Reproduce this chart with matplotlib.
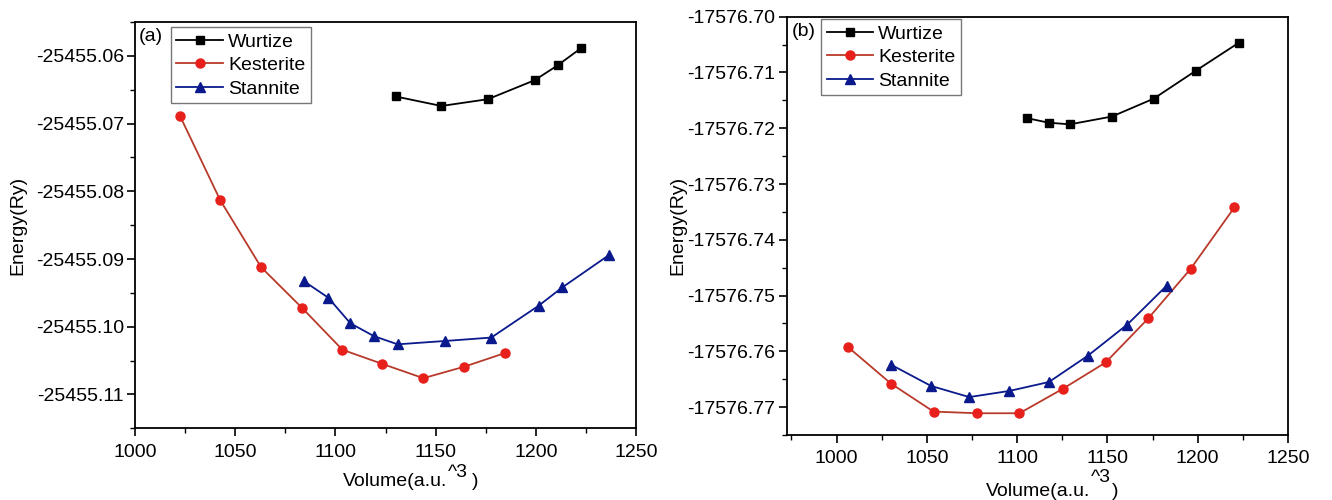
import matplotlib.pyplot as plt
from matplotlib.ticker import MultipleLocator, FormatStrFormatter

plt.rcParams['font.family'] = ['Liberation Sans', 'DejaVu Sans']

# panel (a)
a_wurtize_v = [1130.1, 1152.9, 1176.1, 1199.4, 1210.9, 1222.4]
a_wurtize_e = [-25455.0660, -25455.0674, -25455.0664, -25455.0636, -25455.0614, -25455.0589]
a_kesterite_v = [1022.5, 1042.5, 1062.9, 1083.3, 1103.5, 1123.5, 1143.9, 1164.3, 1184.5]
a_kesterite_e = [-25455.0689, -25455.0813, -25455.0912, -25455.0972, -25455.1034,
                 -25455.1055, -25455.1076, -25455.1059, -25455.1039]
a_stannite_v = [1084.4, 1096.4, 1107.5, 1119.3, 1131.1, 1154.9, 1177.8, 1201.4, 1213.2, 1236.6]
a_stannite_e = [-25455.0933, -25455.0957, -25455.0995, -25455.1014, -25455.1026,
                -25455.1021, -25455.1016, -25455.0969, -25455.0942, -25455.0894]

# panel (b)
b_wurtize_v = [1105.6, 1117.4, 1129.2, 1152.5, 1175.6, 1198.9, 1222.6]
b_wurtize_e = [-17576.7182, -17576.7190, -17576.7193, -17576.7179, -17576.7147,
               -17576.7097, -17576.7047]
b_kesterite_v = [1006.6, 1030.2, 1053.7, 1077.8, 1101.3, 1125.4, 1149.0, 1172.6, 1196.1, 1220.3]
b_kesterite_e = [-17576.7593, -17576.7658, -17576.7708, -17576.7711, -17576.7711,
                 -17576.7667, -17576.7620, -17576.7541, -17576.7452, -17576.7342]
b_stannite_v = [1030.2, 1052.3, 1073.5, 1095.7, 1117.6, 1139.1, 1161.0, 1182.9]
b_stannite_e = [-17576.7624, -17576.7662, -17576.7682, -17576.7671, -17576.7655,
                -17576.7608, -17576.7552, -17576.7482]

RED_LINE = '#b83a2a'
RED_MARK = '#e8201c'
BLUE = '#0a1a8c'
W, H = 1332, 500


def draw(ax, wv, we, kv, ke, sv, se, tag, leg_x, leg_y, tag_x, ylab_x):
    ax.plot(wv, we, color='black', lw=1.3, marker='s', ms=5.5, label='Wurtize')
    ax.plot(kv, ke, color=RED_LINE, lw=1.3, marker='o', ms=6.5,
            mfc=RED_MARK, mec=RED_MARK, label='Kesterite')
    ax.plot(sv, se, color=BLUE, lw=1.3, marker='^', ms=6.5, label='Stannite')
    ax.text(tag_x, 0.985, tag, transform=ax.transAxes, fontsize=14, va='top', ha='left')
    leg = ax.legend(loc='upper left', bbox_to_anchor=(leg_x, leg_y), fontsize=14,
                    fancybox=False, edgecolor='#555555', handlelength=2.4,
                    borderpad=0.3, labelspacing=0.3, handletextpad=0.25,
                    borderaxespad=0.0)
    leg.get_frame().set_linewidth(1.0)
    ax.tick_params(axis='both', which='both', direction='out', top=False, right=False,
                   labelsize=14)
    ax.tick_params(which='major', length=6, width=1.2)
    ax.tick_params(which='minor', length=3.5, width=1.0)
    ax.tick_params(axis='y', pad=2)
    ax.tick_params(axis='x', pad=5)
    ax.xaxis.set_major_locator(MultipleLocator(50))
    ax.xaxis.set_minor_locator(MultipleLocator(25))
    ax.yaxis.set_major_locator(MultipleLocator(0.01))
    ax.yaxis.set_minor_locator(MultipleLocator(0.005))
    ax.yaxis.set_major_formatter(FormatStrFormatter('%.2f'))
    for s in ax.spines.values():
        s.set_linewidth(1.3)
    ax.set_ylabel('Energy(Ry)', fontsize=14)
    ax.yaxis.set_label_coords(ylab_x, 0.5)


def xlabel(x_main, y_main, x_sup, y_sup, x_par):
    # "Volume(a.u.^3)" with the ^3 raised above the line
    fig.text(x_main / W, 1 - y_main / H, 'Volume(a.u.', fontsize=14, ha='right', va='baseline')
    fig.text(x_sup / W, 1 - y_sup / H, '^3', fontsize=14, ha='left', va='baseline')
    fig.text(x_par / W, 1 - y_main / H, ')', fontsize=14, ha='left', va='baseline')


fig = plt.figure(figsize=(13.32, 5), dpi=100)
ax1 = fig.add_axes([135 / W, 1 - 428.3 / H, 501 / W, 406.3 / H])
ax2 = fig.add_axes([786.7 / W, 1 - 435 / H, 501.3 / W, 418.3 / H])

draw(ax1, a_wurtize_v, a_wurtize_e, a_kesterite_v, a_kesterite_e,
     a_stannite_v, a_stannite_e, '(a)', 0.071, 0.987, 0.008, -0.2175)
ax1.set_xlim(1000, 1250)
ax1.set_ylim(-25455.115, -25455.055)
xlabel(447, 486, 448, 477, 472)

draw(ax2, b_wurtize_v, b_wurtize_e, b_kesterite_v, b_kesterite_e,
     b_stannite_v, b_stannite_e, '(b)', 0.068, 0.994, 0.011, -0.201)
ax2.set_xlim(972.4, 1250)
ax2.set_ylim(-17576.775, -17576.70)
xlabel(1090, 496, 1091, 482, 1112)

fig.savefig('out.png', dpi=100)
